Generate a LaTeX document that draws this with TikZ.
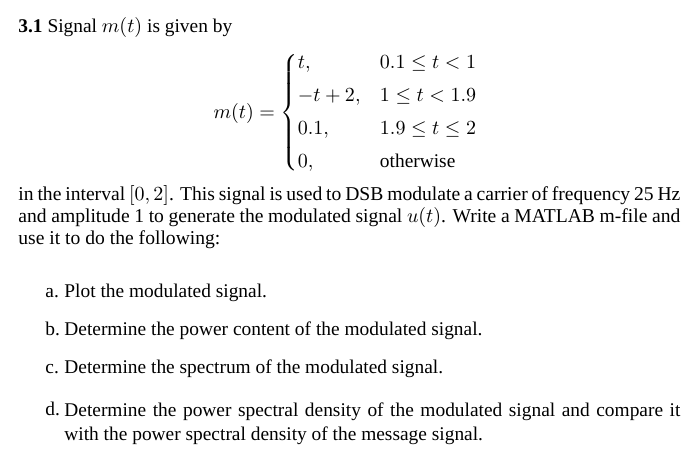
\documentclass[tikz,border=0pt]{standalone}
\usepackage{amsmath}
\usepackage{amssymb}
\usepackage{fontspec}
\setmainfont{Liberation Serif}
\usetikzlibrary{positioning}

\begin{document}
\begin{tikzpicture}[x=0.5pt, y=0.5pt,
    txt/.style={anchor=base west, inner sep=0pt, font=\fontsize{9.7}{11}\selectfont},
    para/.style={anchor=north west, inner sep=0pt, text width=331pt, align=justify, font=\fontsize{9.8}{11}\selectfont},
    item/.style={anchor=north west, inner sep=0pt, text width=308pt, align=justify, font=\fontsize{9.7}{12}\selectfont}
]
    \useasboundingbox (0,0) rectangle (700,-457);

    % Title
    \node[txt] (title) at (18,-32) {\textbf{3.1} Signal $m(t)$ is given by};

    % Definition of the signal
    \node[inner sep=0pt, font=\fontsize{9.7}{11}\selectfont] (signal) at (346,-113)
        {$m(t)=\begin{cases}
            t, & 0.1\le t<1\\[3.3pt]
            -t+2, & 1\le t<1.9\\[3.3pt]
            0.1, & 1.9\le t\le 2\\[3.3pt]
            0, & \text{otherwise}
         \end{cases}$};

    % Description
    \node[para] (desc) at (18,-185) {in the interval $[0,2]$. This signal is used to DSB modulate a carrier of frequency 25~Hz and amplitude 1 to generate the modulated signal $u(t)$. Write a MATLAB m-file and use it to do the following:};

    % Tasks
    \node[txt] (la) at (45,-297) {a.};
    \node[txt] (ta) at (64,-297) {Plot the modulated signal.};
    \node[txt] (lb) at (45,-335) {b.};
    \node[txt] (tb) at (64,-335) {Determine the power content of the modulated signal.};
    \node[txt] (lc) at (45,-373) {c.};
    \node[txt] (tc) at (64,-373) {Determine the spectrum of the modulated signal.};
    \node[txt] (ld) at (45,-415) {d.};
    \node[item] (td) at (64,-402) {Determine the power spectral density of the modulated signal and compare it with the power spectral density of the message signal.};
\end{tikzpicture}
\end{document}
